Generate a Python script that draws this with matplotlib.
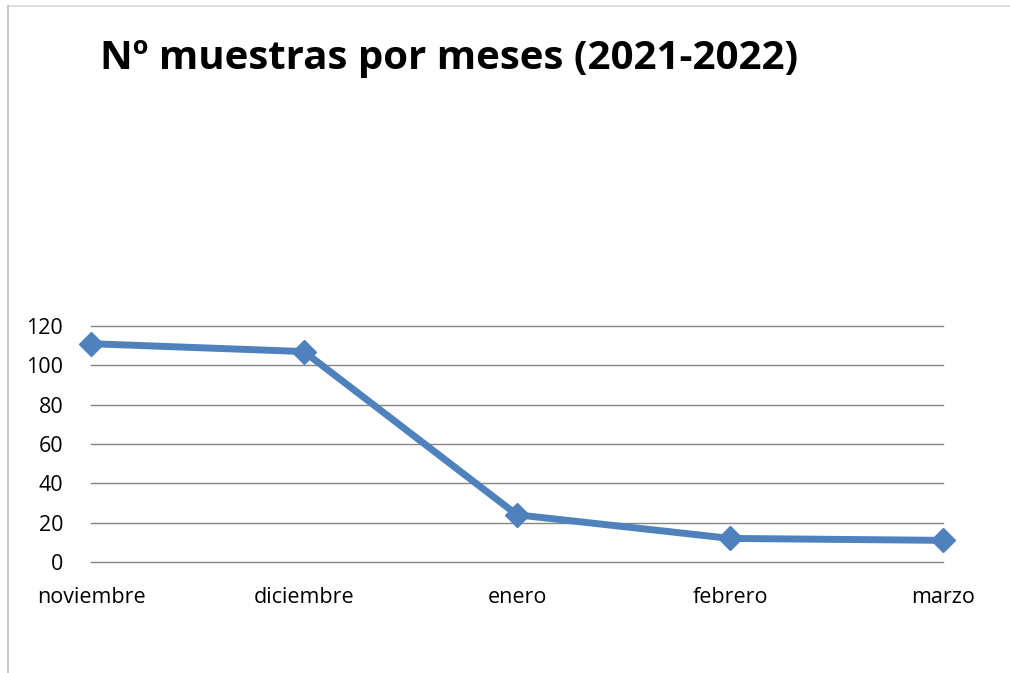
import matplotlib.pyplot as plt
from matplotlib.lines import Line2D

# datos
meses = ['noviembre', 'diciembre', 'enero', 'febrero', 'marzo']
muestras = [111, 107, 24, 12, 11]
y_ticks = [0, 20, 40, 60, 80, 100, 120]

plt.rcParams['font.family'] = ['Open Sans', 'DejaVu Sans']

fig = plt.figure(figsize=(10.1, 6.73), dpi=100)
ax = fig.add_axes([91 / 1010, 1 - 562 / 673, (943 - 91) / 1010, (562 - 326) / 673])

x = list(range(len(meses)))
ax.plot(x, muestras, color='#4F81BD', linewidth=5, marker='D',
        markersize=12, clip_on=False, zorder=3)

ax.set_xlim(0, len(meses) - 1)
ax.set_ylim(0, 120)
ax.set_yticks(y_ticks)
ax.set_xticks(x)
ax.set_xticklabels(meses)
ax.tick_params(axis='both', length=0, labelsize=15.5, colors='#000000')
ax.tick_params(axis='x', pad=18)
ax.tick_params(axis='y', pad=20)
ax.grid(axis='y', color='#868686', linewidth=1)
for gl in ax.get_ygridlines():
    gl.set_clip_on(False)
ax.set_axisbelow(True)
for s in ax.spines.values():
    s.set_visible(False)

# título
fig.text(100 / 1010, 1 - 58 / 673, 'Nº muestras por meses (2021-2022)',
         fontsize=29, fontweight='bold', ha='left', va='center')

# borde del gráfico
fig.add_artist(Line2D([8 / 1010, 1], [1 - 6 / 673, 1 - 6 / 673],
                      transform=fig.transFigure, color='#D9D9D9', linewidth=1.2))
fig.add_artist(Line2D([8 / 1010, 8 / 1010], [0, 1 - 6 / 673],
                      transform=fig.transFigure, color='#BFBFBF', linewidth=1.2))

fig.savefig('out.png', dpi=100)
